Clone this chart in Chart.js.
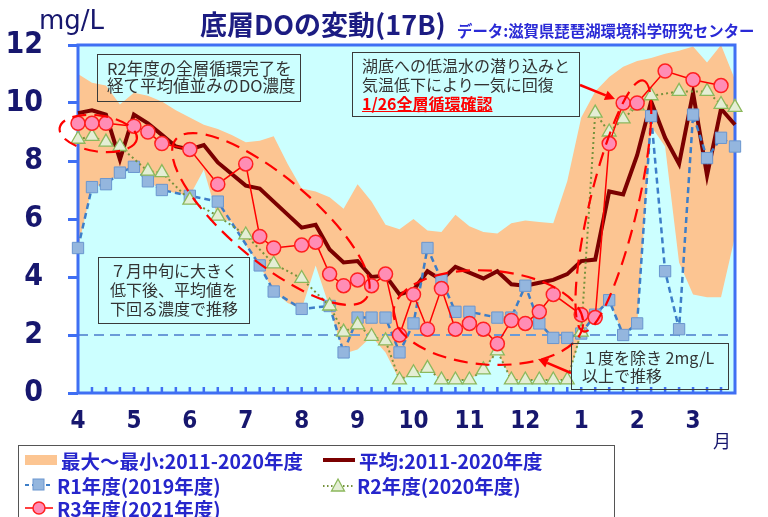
<!DOCTYPE html>
<html lang="ja">
<head>
<meta charset="utf-8">
<title>底層DOの変動(17B)</title>
<script src="https://cdn.jsdelivr.net/npm/chart.js@4.4.0/dist/chart.umd.min.js"></script>
<style>
  body { margin: 0; background: #fff; }
  #wrap { position: relative; width: 768px; height: 517px; overflow: hidden; font-family: "Noto Sans CJK JP", sans-serif; }
  #wrap canvas { position: absolute; left: 0; top: 0; }
  .t { position: absolute; white-space: nowrap; line-height: 1; }
  .box { position: absolute; box-sizing: border-box; border: 1.3px solid #3a3a3a; color: #333; font-size: 16px; white-space: nowrap; }
  .leg { position: absolute; height: 22px; display: flex; align-items: center; color: #2626cc; font-weight: bold; font-size: 19.5px; white-space: nowrap; }
  .leg svg { margin-right: 3px; }
</style>
</head>
<body>
<div id="wrap">
  <canvas id="myChart" width="768" height="517"></canvas>

  <div class="t" style="left:39px; top:7px; font-family:'DejaVu Sans'; font-size:26px; color:#17176e;">mg/L</div>
  <div class="t" style="left:200px; top:10px; font-size:27px; font-weight:bold; color:#1c1c82;">底層DOの変動(17B)</div>
  <div class="t" style="left:457px; top:23px; font-size:15.4px; font-weight:bold; color:#2a2ad6;">データ:滋賀県琵琶湖環境科学研究センター</div>
  <div class="t" style="left:713px; top:431px; font-size:18px; color:#17176e;">月</div>

  <div class="box" style="left:97px; top:54px; width:204px; height:48px; padding:5px 0 0 9px; line-height:17px; font-size:16.5px;">
    R2年度の全層循環完了を<br>経て平均値並みのDO濃度
  </div>
  <div class="box" style="left:352px; top:52px; width:228px; height:65px; padding:3px 0 0 9px; line-height:19px;">
    湖底への低温水の潜り込みと<br>気温低下により一気に回復<br><span style="color:#ff0000; font-weight:bold; text-decoration:underline;">1/26全層循環確認</span>
  </div>
  <div class="box" style="left:98px; top:257px; width:152px; height:67px; padding-top:3px; line-height:19px; text-align:center;">
    ７月中旬に大きく<br>低下後、平均値を<br>下回る濃度で推移
  </div>
  <div class="box" style="left:571px; top:343px; width:158px; height:47px; padding:4px 0 0 10px; line-height:18px;">
    １度を除き 2mg/L<br>以上で推移
  </div>

  <div style="position:absolute; left:18px; top:445px; width:597px; height:90px; box-sizing:border-box; border:1px solid #555;"></div>
  <div class="leg" style="left:24px; top:449px;">
    <svg width="34" height="12"><rect x="1" y="1" width="32" height="10" fill="#fcc592"/></svg>最大～最小:2011-2020年度
  </div>
  <div class="leg" style="left:322px; top:449px;">
    <svg width="34" height="12"><line x1="1" y1="6" x2="33" y2="6" stroke="#7b0000" stroke-width="4"/></svg>平均:2011-2020年度
  </div>
  <div class="leg" style="left:24px; top:474px;">
    <svg width="30" height="16"><line x1="1" y1="8" x2="29" y2="8" stroke="#3d7ec8" stroke-width="2" stroke-dasharray="4,3"/><rect x="9" y="2" width="11" height="11" fill="#94b6de" stroke="#6a96cf"/></svg>R1年度(2019年度)
  </div>
  <div class="leg" style="left:322px; top:474px;">
    <svg width="32" height="16"><line x1="1" y1="9" x2="31" y2="9" stroke="#76923c" stroke-width="2" stroke-dasharray="1.5,2.5"/><polygon points="16,2 22.5,14 9.5,14" fill="#e4eed5" stroke="#8cb85c" stroke-width="1.3"/></svg>R2年度(2020年度)
  </div>
  <div class="leg" style="left:24px; top:497px;">
    <svg width="30" height="16"><line x1="1" y1="8" x2="29" y2="8" stroke="#ff0000" stroke-width="1.5"/><circle cx="15" cy="8" r="6" fill="#ff8db5" stroke="#ff2020" stroke-width="1.5"/></svg>R3年度(2021年度)
  </div>
</div>

<script>
// 月ラベルと1か月あたりの観測スロット数
const monthLabels = ['4', '5', '6', '7', '8', '9', '10', '11', '12', '1', '2', '3'];
const slotsPerMonth = 4;

// 2011-2020年度 最大・最小・平均 (mg/L)
const maxDO = [11.0, 10.7, 10.6, 9.95, 10.35, 10.25, 10.05, 9.75, 9.5, 9.25, 9.1, 8.9,
  8.65, 8.7, 8.85, 7.9, 7.05, 6.95, 6.75, 6.35, 7.2, 6.6, 5.8, 5.65,
  6.0, 5.6, 5.55, 6.15, 5.75, 5.55, 5.5, 5.85, 5.95, 5.9, 5.85, 7.3,
  9.5, 10.4, 10.9, 11.25, 11.45, 11.55, 11.7, 11.8, 11.95, 11.4, 12.0, 10.8];
const minDO = [5.0, 7.1, 7.2, 7.6, 7.8, 7.3, 7.0, 6.9, 6.8, 7.7, 6.05, 5.9,
  5.1, 4.4, 3.5, 3.1, 2.9, 4.4, 2.95, 1.35, 1.5, 1.95, 1.4, 0.45,
  0.65, 0.85, 0.45, 0.45, 0.45, 0.8, 1.45, 0.45, 0.45, 0.45, 0.45, 0.45,
  2.0, 2.6, 3.2, 2.0, 2.35, 9.2, 8.5, 4.5, 3.4, 3.3, 3.3, 5.4];
const meanDO = [9.65, 9.75, 9.6, 8.05, 9.6, 9.3, 8.9, 8.5, 8.4, 8.55, 7.95, 7.55,
  7.15, 7.05, 6.6, 6.15, 5.7, 5.8, 4.95, 4.5, 4.55, 4.0, 4.05, 3.4,
  3.55, 4.2, 3.9, 4.35, 4.15, 3.95, 4.2, 3.75, 3.7, 3.8, 3.9, 4.1,
  4.55, 4.6, 6.95, 6.85, 8.2, 10.05, 8.8, 7.9, 10.35, 7.5, 9.8, 9.25];

// 各年度の観測値 (null = 観測なし)
const r1DO = [5.0, 7.1, 7.2, 7.6, 7.8, 7.3, 7.0, null, 6.8, null, 6.6, null,
  null, 4.4, 3.5, null, 2.9, null, 3.0, 1.4, 2.6, 2.6, 2.6, 1.4,
  2.4, 5.0, 3.9, 2.8, 2.8, null, 2.6, 2.6, 3.7, 2.4, 1.9, 1.9,
  2.05, 2.7, 3.2, 2.0, 2.4, 9.55, 4.2, 2.2, 9.6, 8.1, 8.8, 8.5];
const r2DO = [8.75, 8.85, 8.65, 8.5, null, 7.65, 7.6, null, 6.65, null, 6.1, null,
  5.45, null, 4.45, null, 3.95, null, 3.0, 2.1, 2.35, 1.95, 1.8, 0.45,
  0.7, 0.85, 0.45, 0.45, 0.45, 0.8, 1.45, 0.45, 0.45, 0.45, 0.45, 0.45,
  2.1, 9.65, 9.0, 9.45, 9.9, 10.25, null, 10.4, null, 10.4, 9.95, 9.85];
const r3DO = [9.3, 9.3, 9.3, null, 9.2, 9.0, 8.6, null, 8.4, null, 7.2, null,
  7.9, 5.4, 5.0, null, 5.1, 5.2, 4.1, 3.7, 3.9, 3.7, 4.1, 2.0,
  3.4, 2.2, 3.6, 2.2, 2.4, 2.2, 1.7, 2.5, 2.4, 2.8, 3.4, null,
  2.7, 2.6, 8.6, 10.0, 10.0, null, 11.1, null, 10.8, null, 10.6, null];

// 2mg/L の目安線
const refLevel = 2;

// 赤い破線の楕円 (中心はスロット番号と濃度、半径はpx)
const ellipses = [
  { x: 1.45, y: 8.95, rx: 39, ry: 18, rot: 8 },
  { x: 13.8, y: 6.0, rx: 124, ry: 42, rot: 40 },
  { x: 29.35, y: 2.6, rx: 95, ry: 47, rot: 4 },
  { x: 38.3, y: 6.45, rx: 129, ry: 24, rot: -76.6 }
];
// 矢印 (px)
const arrows = [
  { from: [580, 85], to: [615, 99] },
  { from: [571, 373], to: [538, 359] }
];

const slots = [];
for (let i = 0; i < monthLabels.length * slotsPerMonth; i++) {
  slots.push(i % slotsPerMonth === 0 ? monthLabels[i / slotsPerMonth] : '');
}

const axisBlue = '#3f6ff3';
const narrow = "'Liberation Sans Narrow', 'DejaVu Sans Condensed', sans-serif";

// 背景・枠・目安線
const framePlugin = {
  id: 'frame',
  beforeDraw(chart) {
    const a = chart.chartArea;
    const c = chart.ctx;
    c.save();
    c.fillStyle = '#ccffff';
    c.fillRect(a.left, a.top, a.right - a.left, a.bottom - a.top);
    c.restore();
  },
  afterDatasetDraw(chart, args) {
    if (args.index !== 1) return;
    const a = chart.chartArea;
    const c = chart.ctx;
    const y2 = chart.scales.y.getPixelForValue(refLevel);
    c.save();
    c.strokeStyle = '#6a9bd8';
    c.lineWidth = 2;
    c.setLineDash([10, 6]);
    c.beginPath();
    c.moveTo(a.left, y2);
    c.lineTo(a.right, y2);
    c.stroke();
    c.setLineDash([]);
    c.strokeStyle = axisBlue;
    c.lineWidth = 3;
    c.strokeRect(a.left, a.top, a.right - a.left, a.bottom - a.top);
    // 下側の内向き目盛り
    c.lineWidth = 2.5;
    c.beginPath();
    for (let i = 1; i < slots.length - 1; i++) {
      const x = chart.scales.x.getPixelForValue(i);
      c.moveTo(x, a.bottom);
      c.lineTo(x, a.bottom - 6);
    }
    c.stroke();
    c.restore();
  }
};

// 楕円と矢印
const notesPlugin = {
  id: 'notes',
  afterDatasetsDraw(chart) {
    const c = chart.ctx;
    const xs = chart.scales.x, ys = chart.scales.y;
    c.save();
    c.strokeStyle = '#ff0000';
    c.lineWidth = 2.2;
    c.setLineDash([14, 8]);
    ellipses.forEach(e => {
      c.beginPath();
      c.ellipse(xs.getPixelForValue(e.x), ys.getPixelForValue(e.y), e.rx, e.ry, e.rot * Math.PI / 180, 0, Math.PI * 2);
      c.stroke();
    });
    c.setLineDash([]);
    c.fillStyle = '#ff0000';
    c.lineWidth = 2.5;
    arrows.forEach(ar => {
      const [x0, y0] = ar.from, [x1, y1] = ar.to;
      const ang = Math.atan2(y1 - y0, x1 - x0);
      const bx = x1 - 10 * Math.cos(ang), by = y1 - 10 * Math.sin(ang);
      c.beginPath();
      c.moveTo(x0, y0);
      c.lineTo(bx, by);
      c.stroke();
      c.beginPath();
      c.moveTo(x1, y1);
      c.lineTo(bx + 5 * Math.sin(ang), by - 5 * Math.cos(ang));
      c.lineTo(bx - 5 * Math.sin(ang), by + 5 * Math.cos(ang));
      c.closePath();
      c.fill();
    });
    c.restore();
  }
};

new Chart(document.getElementById('myChart'), {
  type: 'line',
  data: {
    labels: slots,
    datasets: [
      { label: '最大', data: maxDO, order: 5, fill: '+1', backgroundColor: '#fcc592', borderWidth: 0, pointRadius: 0 },
      { label: '最小', data: minDO, order: 4, fill: false, borderWidth: 0, pointRadius: 0 },
      { label: '平均:2011-2020年度', data: meanDO, order: 3, borderColor: '#7b0000', borderWidth: 4, pointRadius: 0, fill: false, clip: false },
      { label: 'R1年度(2019年度)', data: r1DO, order: 2, borderColor: '#3d7ec8', borderWidth: 2.5, borderDash: [6, 4],
        pointStyle: 'rect', pointRadius: 8, pointBackgroundColor: '#94b6de', pointBorderColor: '#6a96cf', pointBorderWidth: 1,
        spanGaps: true, fill: false, clip: false },
      { label: 'R2年度(2020年度)', data: r2DO, order: 1, borderColor: '#76923c', borderWidth: 2, borderDash: [2, 3],
        pointStyle: 'triangle', pointRadius: 8, pointBackgroundColor: '#e4eed5', pointBorderColor: '#8cb85c', pointBorderWidth: 1.3,
        spanGaps: true, fill: false, clip: false },
      { label: 'R3年度(2021年度)', data: r3DO, order: 0, borderColor: '#ff0000', borderWidth: 1.5,
        pointStyle: 'circle', pointRadius: 7, pointBackgroundColor: '#ff8db5', pointBorderColor: '#ff2020', pointBorderWidth: 1.5,
        spanGaps: true, fill: false, clip: false }
    ]
  },
  options: {
    responsive: false,
    animation: false,
    layout: { padding: { left: 0, right: 33, top: 45, bottom: 0 } },
    plugins: { legend: { display: false }, tooltip: { enabled: false } },
    elements: { line: { tension: 0 } },
    scales: {
      x: {
        offset: false,
        grid: { display: false, drawTicks: false },
        border: { display: false },
        ticks: { autoSkip: false, maxRotation: 0, padding: 14, color: '#17176e',
          font: { family: narrow, size: 24, weight: 'bold' } },
        afterFit(s) { s.height = 124; }
      },
      y: {
        min: 0, max: 12,
        grid: { drawOnChartArea: false, drawTicks: true, tickLength: 10, color: axisBlue, lineWidth: 3 },
        border: { display: false },
        ticks: { stepSize: 2, padding: 25, color: '#17176e',
          font: { family: narrow, size: 30, weight: 'bold' } },
        afterFit(s) { s.width = 78; }
      }
    }
  },
  plugins: [framePlugin, notesPlugin]
});
</script>
</body>
</html>
